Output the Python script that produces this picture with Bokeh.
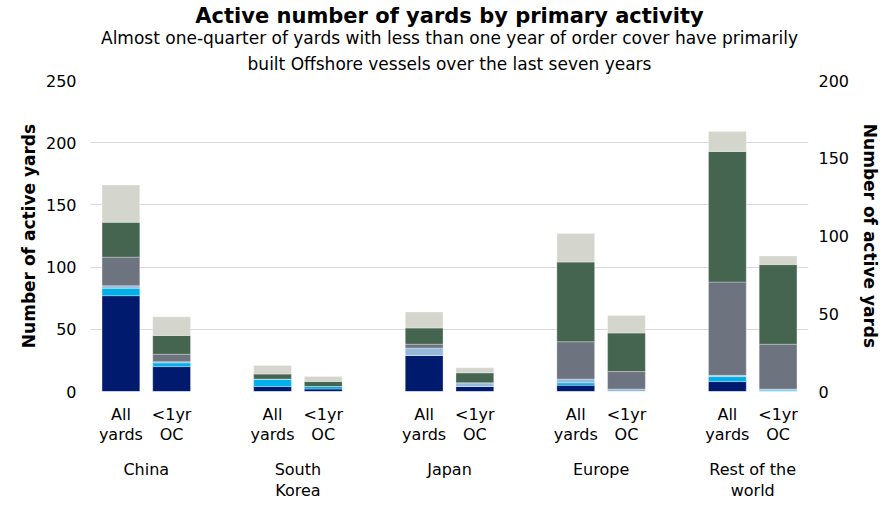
from bokeh.plotting import figure
from bokeh.models import (ColumnDataSource, FactorRange, LinearAxis, Range1d,
                          Title, Legend, SingleIntervalTicker)
from bokeh.embed import file_html
from bokeh.resources import INLINE

regions = ["China", "South\nKorea", "Japan", "Europe", "Rest of the\nworld"]
cover = ["All\nyards", "<1yr\nOC"]
activities = ["Bulk", "Container", "Gas", "Offshore", "Others", "Tanker"]

bulk = [77, 20, 4, 2, 29, 4, 5, 0, 8, 0]
container = [6, 3, 6, 2, 0, 0, 2, 0, 4, 1]
gas = [2, 1, 0, 0, 6, 3, 3, 2, 1, 1]
offshore = [23, 6, 0, 0, 3, 0, 30, 14, 75, 36]
others = [28, 15, 4, 4, 13, 8, 64, 31, 105, 64]
tanker = [30, 15, 7, 4, 13, 4, 23, 14, 16, 7]

colors = ["#001a6e", "#00b0ea", "#95b9d9", "#6d7480", "#466550", "#d4d6ce"]

FONT = "DejaVu Sans"
TXT = "#000000"

factors = [(r, c) for r in regions for c in cover]
source = ColumnDataSource(dict(x=factors, Bulk=bulk, Container=container, Gas=gas,
                               Offshore=offshore, Others=others, Tanker=tanker))

p = figure(frame_width=718, frame_height=311, output_backend="svg", toolbar_location=None,
           x_range=FactorRange(factors=factors, factor_padding=0.0, group_padding=0.99,
                               range_padding=0.1, range_padding_units="absolute"),
           y_range=Range1d(0, 250),
           min_border_left=90, min_border_right=79, min_border_top=79, min_border_bottom=0)

renderers = p.vbar_stack(activities, x="x", width=0.745, source=source, color=colors,
                         line_color="white", line_width=0.5, line_alpha=0.6)

p.extra_y_ranges = {"right": Range1d(0, 200)}
right_axis = LinearAxis(y_range_name="right", ticker=SingleIntervalTicker(interval=50))
p.add_layout(right_axis, "right")
p.yaxis[0].ticker = SingleIntervalTicker(interval=50)

for ax in p.yaxis:
    ax.axis_label = "Number of active yards"
    ax.axis_label_text_font = FONT
    ax.axis_label_text_font_size = "17px"
    ax.axis_label_text_font_style = "bold"
    ax.axis_label_text_color = TXT
    ax.major_label_text_font = FONT
    ax.major_label_text_font_size = "16px"
    ax.major_label_text_color = TXT
    ax.axis_line_color = None
    ax.major_tick_line_color = None
    ax.minor_tick_line_color = None
    ax.major_tick_out = 0
    ax.major_tick_in = 0
    ax.minor_tick_out = 0

p.yaxis[0].major_label_standoff = 14
p.yaxis[0].axis_label_standoff = 4
right_axis.major_label_standoff = 10
right_axis.axis_label_standoff = 8
if "axis_label_orientation" in right_axis.properties():
    right_axis.axis_label_orientation = "vertical"

xa = p.xaxis[0]
xa.axis_line_color = None
xa.major_tick_line_color = None
xa.minor_tick_line_color = None
xa.major_tick_out = 0
xa.major_tick_in = 0
xa.major_label_text_font = FONT
xa.major_label_text_font_size = "16px"
xa.major_label_text_color = TXT
xa.major_label_text_line_height = 1.1
xa.major_label_standoff = 13
xa.group_text_font = FONT
xa.group_text_font_size = "16px"
xa.group_text_font_style = "normal"
xa.group_text_color = TXT
xa.group_text_line_height = 1.1
xa.separator_line_color = None

p.xgrid.grid_line_color = None
p.ygrid.grid_line_color = "#d9d9d9"
p.outline_line_color = None

p.title.text = "Active number of yards by primary activity"
p.title.align = "center"
p.title.text_font = FONT
p.title.text_font_size = "21px"
p.title.text_font_style = "bold"
p.title.text_color = TXT
p.title.text_line_height = 0.9
p.title.standoff = 2
for txt, so in [("built Offshore vessels over the last seven years", 14),
                ("Almost one-quarter of yards with less than one year of order cover have primarily", -6)]:
    p.add_layout(Title(text=txt, align="center", text_font=FONT, text_font_size="17px",
                       text_font_style="normal", text_color=TXT, text_line_height=0.9,
                       standoff=so), "above")

legend = Legend(items=[(a, [r]) for a, r in zip(activities, renderers)],
                orientation="horizontal", location=(-15, 15),
                label_text_font=FONT, label_text_font_size="17px", label_text_color=TXT,
                glyph_width=10, glyph_height=10, label_standoff=3,
                spacing=68, padding=0, margin=0,
                border_line_color=None, background_fill_alpha=0)
p.add_layout(legend, "below")

open("out.html", "w").write(file_html(p, INLINE))
